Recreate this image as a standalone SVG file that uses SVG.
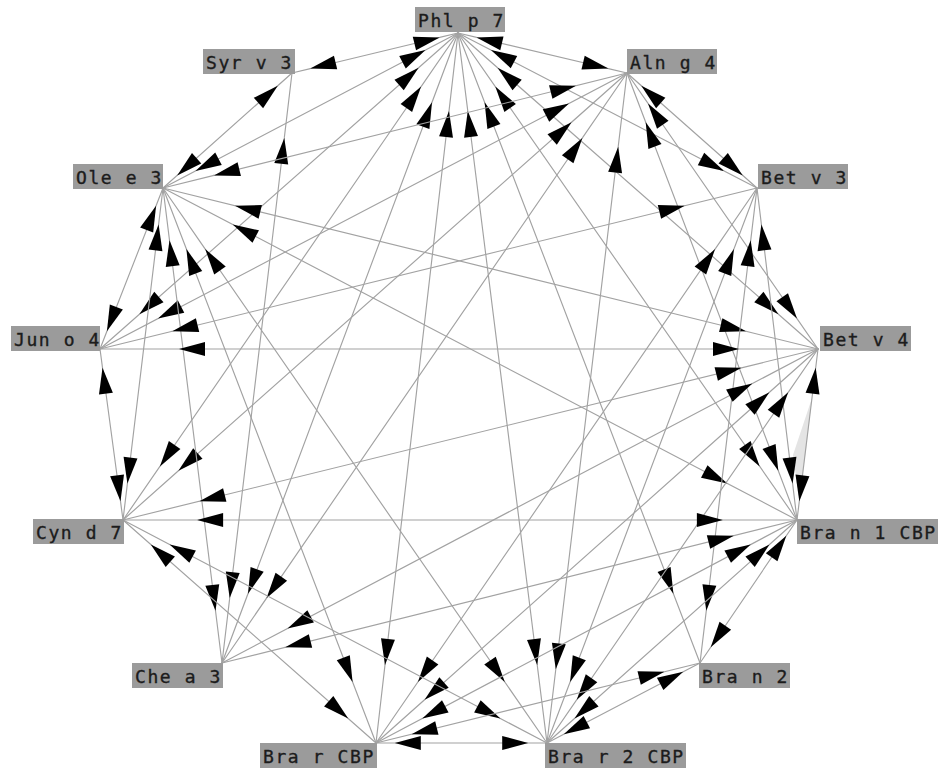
<svg xmlns="http://www.w3.org/2000/svg" width="943" height="777" viewBox="0 0 943 777">
<style>
.bg{fill:#ffffff}
.e{fill:none;stroke:#a2a2a2;stroke-width:1.15;stroke-linejoin:round;marker-start:url(#hs);marker-end:url(#he)}
.lb{fill:#9b9b9b}
.tx{font-family:"DejaVu Sans Mono","Liberation Mono",monospace;font-size:18px;letter-spacing:1.6px;fill:#1c1c1c;stroke:#1c1c1c;stroke-width:0.35px}
.wedge{fill:#e4e4e4}
</style>
<defs>
<marker id="hs" markerUnits="userSpaceOnUse" markerWidth="30" markerHeight="20" refX="0" refY="0" orient="auto" overflow="visible"><polygon points="0,0 -26,-7 -26,7" fill="#000"/></marker>
<marker id="he" markerUnits="userSpaceOnUse" markerWidth="30" markerHeight="20" refX="0" refY="0" orient="auto" overflow="visible"><polygon points="0,0 26,-7 26,7" fill="#000"/></marker>
</defs>
<rect class="bg" x="0" y="0" width="943" height="777"/>
<polygon class="wedge" points="812,398 806,450 801,484 797,484 793,455"/>
<g id="connectors">
<path class="e" d="M439.7,37.4 L458,33 L292,73 L310.3,68.6"/>
<path class="e" d="M476.6,37.4 L458,33 L627,73 L608.4,68.6"/>
<path class="e" d="M425.5,50.1 L458,33 L163,188 L195.5,170.9"/>
<path class="e" d="M490.9,50.1 L458,33 L757,188 L724.1,171"/>
<path class="e" d="M418.6,67.8 L458,33 L100,349 L139.4,314.2"/>
<path class="e" d="M497.6,67.8 L458,33 L818,349 L778.4,314.2"/>
<path class="e" d="M421.1,86.6 L458,33 L123,520 L159.9,466.4"/>
<path class="e" d="M495.3,86.6 L458,33 L797,520 L759.7,466.4"/>
<path class="e" d="M432,102.3 L458,33 L222,663 L248,593.7"/>
<path class="e" d="M484.6,102.3 L458,33 L700,663 L673.4,593.7"/>
<path class="e" d="M449,111.1 L458,33 L376,743 L385,664.9"/>
<path class="e" d="M467.8,111.1 L458,33 L547,743 L537.2,664.9"/>
<path class="e" d="M277.8,85.7 L292,73 L163,188 L177.2,175.4"/>
<path class="e" d="M284.3,137.9 L292,73 L222,663 L229.7,598.1"/>
<path class="e" d="M576,85.7 L627,73 L163,188 L214,175.4"/>
<path class="e" d="M641.3,85.7 L627,73 L757,188 L742.7,175.4"/>
<path class="e" d="M569,103.4 L627,73 L100,349 L158,318.6"/>
<path class="e" d="M648,103.4 L627,73 L818,349 L797,318.6"/>
<path class="e" d="M571.6,122.2 L627,73 L123,520 L178.4,470.8"/>
<path class="e" d="M645.7,122.2 L627,73 L797,520 L778.3,470.8"/>
<path class="e" d="M582.4,137.9 L627,73 L222,663 L266.6,598.1"/>
<path class="e" d="M618.2,146.7 L627,73 L547,743 L555.8,669.3"/>
<path class="e" d="M156.1,205.7 L163,188 L100,349 L106.9,331.3"/>
<path class="e" d="M235,205.7 L163,188 L818,349 L746,331.3"/>
<path class="e" d="M158.6,224.5 L163,188 L123,520 L127.4,483.5"/>
<path class="e" d="M232.7,224.5 L163,188 L797,520 L727.3,483.5"/>
<path class="e" d="M169.5,240.3 L163,188 L222,663 L215.5,610.8"/>
<path class="e" d="M186.4,249.1 L163,188 L376,743 L352.6,682"/>
<path class="e" d="M205.2,249.1 L163,188 L547,743 L504.8,682"/>
<path class="e" d="M684.7,205.7 L757,188 L100,349 L172.3,331.3"/>
<path class="e" d="M761.4,224.5 L757,188 L797,520 L792.6,483.5"/>
<path class="e" d="M750.7,240.3 L757,188 L700,663 L706.3,610.8"/>
<path class="e" d="M733.9,249.1 L757,188 L547,743 L570.1,682"/>
<path class="e" d="M715.1,249.1 L757,188 L376,743 L417.9,682"/>
<path class="e" d="M179,349 L100,349 L818,349 L739,349"/>
<path class="e" d="M102.5,367.8 L100,349 L123,520 L120.5,501.2"/>
<path class="e" d="M741.5,367.8 L818,349 L123,520 L199.5,501.2"/>
<path class="e" d="M752.4,383.5 L818,349 L222,663 L287.6,628.5"/>
<path class="e" d="M769.4,392.3 L818,349 L376,743 L424.6,699.7"/>
<path class="e" d="M788.2,392.3 L818,349 L547,743 L576.8,699.7"/>
<path class="e" d="M815.7,367.8 L818,349 L797,520 L799.3,501.2"/>
<path class="e" d="M197.1,520 L123,520 L797,520 L722.9,520"/>
<path class="e" d="M150.8,544.5 L123,520 L376,743 L348.2,718.5"/>
<path class="e" d="M169.6,544.5 L123,520 L547,743 L500.4,718.5"/>
<path class="e" d="M733.75,535.7 L797,520 L222,663 L285.25,647.3"/>
<path class="e" d="M750.7,544.5 L797,520 L376,743 L422.3,718.5"/>
<path class="e" d="M769.5,544.5 L797,520 L547,743 L574.5,718.5"/>
<path class="e" d="M786.3,535.7 L797,520 L700,663 L710.7,647.3"/>
<path class="e" d="M664.4,671.8 L700,663 L376,743 L411.6,734.2"/>
<path class="e" d="M683.2,671.8 L700,663 L547,743 L563.8,734.2"/>
<path class="e" d="M394.8,743 L376,743 L547,743 L528.2,743"/>
</g>
<g id="n-phlp7"><rect class="lb" x="415" y="7" width="90" height="25"/><text class="tx" x="418" y="27">Phl p 7</text></g>
<g id="n-syrv3"><rect class="lb" x="203" y="49" width="92" height="25"/><text class="tx" x="206" y="69">Syr v 3</text></g>
<g id="n-alng4"><rect class="lb" x="627" y="49" width="90" height="25"/><text class="tx" x="630" y="69">Aln g 4</text></g>
<g id="n-olee3"><rect class="lb" x="73" y="164" width="90" height="25"/><text class="tx" x="76" y="184">Ole e 3</text></g>
<g id="n-betv3"><rect class="lb" x="758" y="164" width="90" height="25"/><text class="tx" x="761" y="184">Bet v 3</text></g>
<g id="n-juno4"><rect class="lb" x="11" y="326" width="89" height="25"/><text class="tx" x="14" y="346">Jun o 4</text></g>
<g id="n-betv4"><rect class="lb" x="820" y="326" width="91" height="25"/><text class="tx" x="823" y="346">Bet v 4</text></g>
<g id="n-cynd7"><rect class="lb" x="33" y="519" width="91" height="25"/><text class="tx" x="36" y="539">Cyn d 7</text></g>
<g id="n-bran1cbp"><rect class="lb" x="797" y="519" width="141" height="25"/><text class="tx" x="800" y="539">Bra n 1 CBP</text></g>
<g id="n-chea3"><rect class="lb" x="132" y="663" width="91" height="25"/><text class="tx" x="135" y="683">Che a 3</text></g>
<g id="n-bran2"><rect class="lb" x="699" y="663" width="91" height="25"/><text class="tx" x="702" y="683">Bra n 2</text></g>
<g id="n-brarcbp"><rect class="lb" x="260" y="743" width="117" height="25"/><text class="tx" x="263" y="763">Bra r CBP</text></g>
<g id="n-brar2cbp"><rect class="lb" x="545" y="743" width="141" height="25"/><text class="tx" x="548" y="763">Bra r 2 CBP</text></g>
</svg>
